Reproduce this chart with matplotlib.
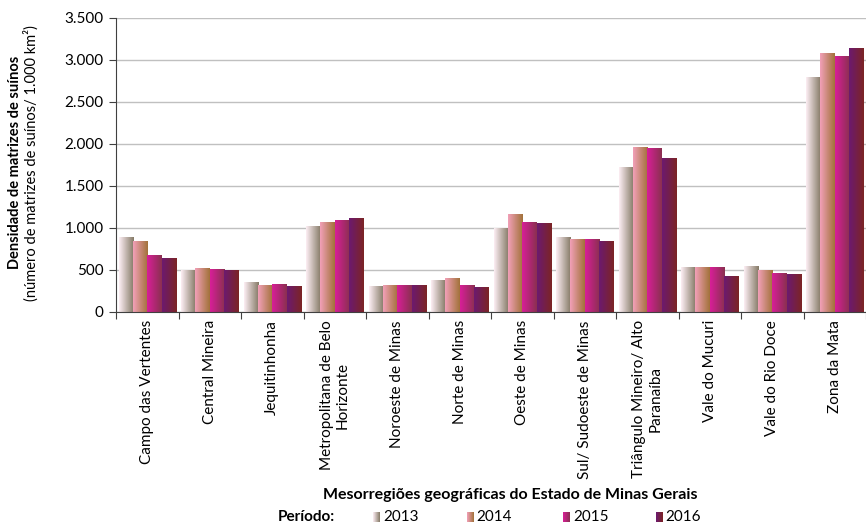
import numpy as np
import matplotlib
matplotlib.use("Agg")
import matplotlib.pyplot as plt
from matplotlib.colors import to_rgb
from matplotlib.patches import Rectangle

plt.rcParams['font.family'] = ['Lato', 'DejaVu Sans']

# ---- dados ----
regioes = ["Campo das Vertentes", "Central Mineira", "Jequitinhonha",
           "Metropolitana de Belo\nHorizonte", "Noroeste de Minas", "Norte de Minas",
           "Oeste de Minas", "Sul/ Sudoeste de Minas", "Triângulo Mineiro/ Alto\nParanaíba",
           "Vale do Mucuri", "Vale do Rio Doce", "Zona da Mata"]
anos = ["2013", "2014", "2015", "2016"]
v2013 = [890, 500, 350, 1025, 310, 375, 1000, 890, 1720, 530, 548, 2795]
v2014 = [840, 520, 318, 1075, 320, 400, 1170, 862, 1962, 530, 500, 3085]
v2015 = [680, 508, 333, 1090, 320, 320, 1075, 862, 1948, 530, 468, 3040]
v2016 = [640, 496, 310, 1115, 320, 295, 1052, 838, 1830, 430, 452, 3145]
series = [v2013, v2014, v2015, v2016]

# cores do degradê (esquerda -> direita)
grad = [("#fdeef4", "#857a66"),
        ("#f2a0b8", "#a2723a"),
        ("#d81f98", "#8a3050"),
        ("#6c1a70", "#7c2424")]


def gradiente(c1, c2, n=64):
    a = np.array(to_rgb(c1))
    b = np.array(to_rgb(c2))
    t = np.linspace(0, 1, n)[:, None]
    return (a + (b - a) * t)[None, :, :]


fig = plt.figure(figsize=(8.66, 5.25), dpi=100)
ax = fig.add_axes([0.134, 0.406, 0.866, 0.560])

n = len(regioes)
x = np.arange(n)
w = 0.23
for i, vals in enumerate(series):
    img = gradiente(*grad[i])
    for j, v in enumerate(vals):
        x0 = x[j] - 2 * w + i * w
        r = Rectangle((x0, 0), w, v, facecolor="none", edgecolor="none")
        ax.add_patch(r)
        im = ax.imshow(img, extent=[x0, x0 + w, 0, v], aspect="auto",
                       interpolation="bilinear", zorder=2)
        im.set_clip_path(r)

ax.set_xlim(-0.5, n - 0.5)
ax.set_ylim(0, 3500)
ax.set_yticks(np.arange(0, 3501, 500))
ax.set_yticklabels(["0", "500", "1.000", "1.500", "2.000", "2.500", "3.000", "3.500"], fontsize=11)
ax.yaxis.grid(True, color="#c0c0c0", linewidth=1)
ax.set_axisbelow(True)

ax.set_xticks(np.arange(-0.5, n, 1))
ax.set_xticklabels([])
ax.set_xticks(x, minor=True)
ax.set_xticklabels(regioes, minor=True, rotation=90, fontsize=11,
                   va="top", ha="center", multialignment="center")
ax.tick_params(axis="x", which="major", length=5, color="#404040", direction="out")
ax.tick_params(axis="x", which="minor", length=0, pad=6)
ax.tick_params(axis="y", length=5, color="#404040", pad=4)

for s in ["top", "right"]:
    ax.spines[s].set_visible(False)
ax.spines["left"].set_color("#404040")
ax.spines["bottom"].set_color("#404040")

fig.text(0.017, 0.69, "Densidade de matrizes de suínos", rotation=90,
         fontsize=10.5, fontweight="bold", ha="center", va="center")
fig.text(0.036, 0.69, "(número de matrizes de suínos/ 1.000 km²)", rotation=90,
         fontsize=10.5, ha="center", va="center")

fig.text(0.589, 0.058, "Mesorregiões geográficas do Estado de Minas Gerais",
         fontsize=11.5, fontweight="bold", ha="center", va="center")

# legenda
fig.text(0.321, 0.015, "Período:", fontsize=11, fontweight="bold", ha="left", va="center")
leg_x = [0.431, 0.539, 0.650, 0.757]
for i, ano in enumerate(anos):
    lax = fig.add_axes([leg_x[i], 0.006, 0.007, 0.018])
    lax.imshow(gradiente(*grad[i]), aspect="auto", interpolation="bilinear")
    lax.axis("off")
    fig.text(leg_x[i] + 0.0115, 0.015, ano, fontsize=11, ha="left", va="center")

fig.savefig("out.png", dpi=100)
